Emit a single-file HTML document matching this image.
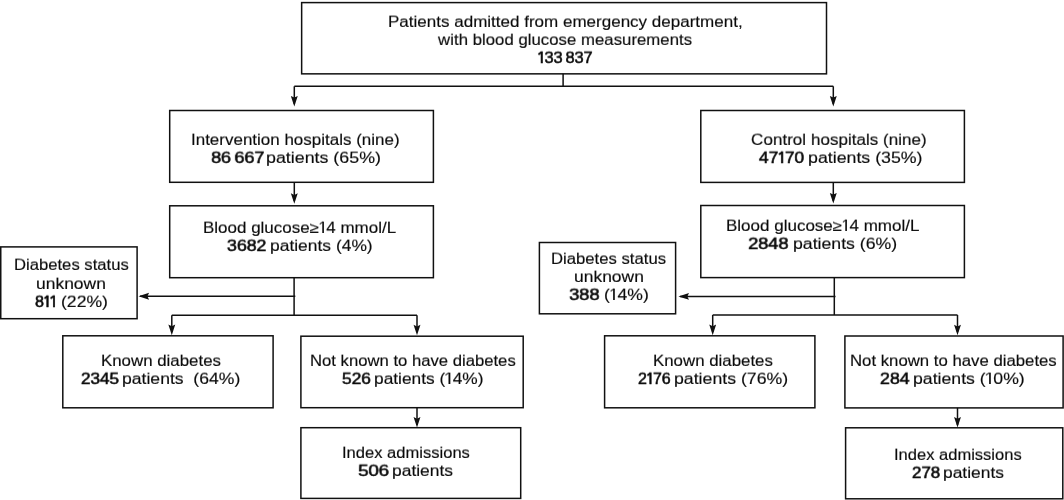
<!DOCTYPE html>
<html><head><meta charset="utf-8"><style>
html,body{margin:0;padding:0;background:#fff;width:1064px;height:500px;overflow:hidden;position:relative}
svg{position:absolute;left:0;top:0}
rect,line{fill:none;stroke:#101010;stroke-width:1.5}
.ah{fill:#101010;stroke:none}
.t{position:absolute;white-space:nowrap;font-family:"Liberation Sans",sans-serif;font-size:16.0px;line-height:normal;color:#0a0a0a;-webkit-text-stroke:0.15px #0a0a0a;transform-origin:0 14px;will-change:transform}

.o{position:relative;margin:0 0.9px 0 1.6px}
.o::before{content:"";position:absolute;left:-2.4px;top:1.6px;width:3.6px;height:1.4px;background:currentColor;transform:rotate(-38deg);transform-origin:100% 0}
.t b .o::before{height:1.9px}
.t b .o{margin:0 0.5px 0 1.4px}
.ts{letter-spacing:-0.3px}
.t b{font-weight:normal;-webkit-text-stroke:0.55px #0a0a0a;letter-spacing:-0.1px}
</style></head><body>
<svg width="1064" height="500" viewBox="0 0 1064 500"><rect x="301.65" y="2.6" width="524.85" height="71.25"/><rect x="169.7" y="110.5" width="263.70" height="71.80"/><rect x="700.8" y="110.5" width="263.60" height="71.90"/><rect x="169.7" y="205.8" width="263.70" height="71.90"/><rect x="700.8" y="205.5" width="263.60" height="72.10"/><rect x="0.75" y="246.9" width="136.35" height="71.80"/><rect x="539.4" y="242.5" width="136.20" height="71.30"/><rect x="62.8" y="335.8" width="210.30" height="72.00"/><rect x="300.9" y="336.2" width="222.30" height="71.50"/><rect x="300.9" y="427.7" width="219.80" height="70.70"/><rect x="604.6" y="335.8" width="210.30" height="72.00"/><rect x="844.9" y="336.0" width="218.20" height="71.90"/><rect x="845.6" y="427.8" width="217.20" height="71.00"/><line x1="563.1" y1="73.85" x2="563.1" y2="86.3"/><line x1="294.3" y1="86.3" x2="833.3" y2="86.3"/><line x1="294.3" y1="86.3" x2="294.3" y2="104"/><line x1="833.3" y1="86.3" x2="833.3" y2="104"/><line x1="294.3" y1="182.3" x2="294.3" y2="201"/><line x1="833.3" y1="182.4" x2="833.3" y2="201"/><line x1="294.1" y1="277.7" x2="294.1" y2="315.3"/><line x1="295.3" y1="296.2" x2="140" y2="296.2"/><line x1="171.8" y1="315.3" x2="417" y2="315.3"/><line x1="171.8" y1="315.3" x2="171.8" y2="332"/><line x1="417" y1="315.3" x2="417" y2="332"/><line x1="417" y1="407.7" x2="417" y2="425"/><line x1="834.3" y1="277.6" x2="834.3" y2="315.0"/><line x1="835.5" y1="296.4" x2="680" y2="296.4"/><line x1="712.7" y1="315.0" x2="957.5" y2="315.0"/><line x1="712.7" y1="315.0" x2="712.7" y2="332"/><line x1="957.5" y1="315.0" x2="957.5" y2="332"/><line x1="957.5" y1="407.9" x2="957.5" y2="425"/><path class="ah" d="M294.30 106.50L290.85 95.90L294.30 97.60L297.75 95.90ZM833.30 106.50L829.85 95.90L833.30 97.60L836.75 95.90ZM294.30 203.80L290.85 193.20L294.30 194.90L297.75 193.20ZM833.30 203.50L829.85 192.90L833.30 194.60L836.75 192.90ZM138.50 296.20L149.10 292.75L147.40 296.20L149.10 299.65ZM678.40 296.40L689.00 292.95L687.30 296.40L689.00 299.85ZM171.80 335.20L168.35 324.60L171.80 326.30L175.25 324.60ZM417.00 335.30L413.55 324.70L417.00 326.40L420.45 324.70ZM712.70 335.20L709.25 324.60L712.70 326.30L716.15 324.60ZM957.50 335.30L954.05 324.70L957.50 326.40L960.95 324.70ZM417.00 427.60L413.55 417.00L417.00 418.70L420.45 417.00ZM957.50 427.60L954.05 417.00L957.50 418.70L960.95 417.00Z"/></svg>
<div class="t" style="left:387.94px;top:13px;transform:scale(1.0634,0.95)">Patients admitted from emergency department,</div><div class="t" style="left:437.79px;top:31px;transform:scale(1.0500,0.95)">with blood glucose measurements</div><div class="t" style="left:538.00px;top:49px;transform:scale(1.0264,0.95)"><b><span class="o">I</span>33<span class="ts"> </span>837</b></div><div class="t" style="left:191.15px;top:131px;transform:scale(1.0610,0.95)">Intervention hospitals (nine)</div><div class="t" style="left:210.85px;top:149px;transform:scale(1.1348,0.95)"><b>86<span class="ts"> </span>667</b></div><div class="t" style="left:266.31px;top:149px;transform:scale(1.1139,0.95)">patients (65%)</div><div class="t" style="left:750.93px;top:131px;transform:scale(1.0681,0.95)">Control hospitals (nine)</div><div class="t" style="left:758.63px;top:149px;transform:scale(1.0854,0.95)"><b>47<span class="o">I</span>70</b></div><div class="t" style="left:807.73px;top:149px;transform:scale(1.1099,0.95)">patients (35%)</div><div class="t" style="left:202.91px;top:219px;transform:scale(1.0608,0.95)">Blood glucose≥<span class="o">I</span>4 mmol/L</div><div class="t" style="left:227.00px;top:237px;transform:scale(1.1143,0.95)"><b>3682</b></div><div class="t" style="left:270.33px;top:237px;transform:scale(1.0892,0.95)">patients (4%)</div><div class="t" style="left:726.35px;top:217px;transform:scale(1.0624,0.95)">Blood glucose≥<span class="o">I</span>4 mmol/L</div><div class="t" style="left:748.43px;top:235px;transform:scale(1.1486,0.95)"><b>2848</b></div><div class="t" style="left:792.89px;top:235px;transform:scale(1.1054,0.95)">patients (6%)</div><div class="t" style="left:13.76px;top:256px;transform:scale(1.0404,0.95)">Diabetes status</div><div class="t" style="left:35.86px;top:275px;transform:scale(1.0903,0.95)">unknown</div><div class="t" style="left:34.80px;top:293px;transform:scale(1.0100,0.95)"><b>8<span class="o">I</span><span class="o">I</span></b></div><div class="t" style="left:60.90px;top:293px;transform:scale(1.1000,0.95)">(22%)</div><div class="t" style="left:551.14px;top:250px;transform:scale(1.0431,0.95)">Diabetes status</div><div class="t" style="left:573.86px;top:268px;transform:scale(1.0903,0.95)">unknown</div><div class="t" style="left:569.00px;top:286px;transform:scale(1.1500,0.95)"><b>388</b></div><div class="t" style="left:604.32px;top:286px;transform:scale(1.1000,0.95)">(<span class="o">I</span>4%)</div><div class="t" style="left:100.95px;top:352px;transform:scale(1.0536,0.95)">Known diabetes</div><div class="t" style="left:80.58px;top:370px;transform:scale(1.0771,0.95)"><b>2345</b></div><div class="t" style="left:121.85px;top:370px;transform:scale(1.0991,0.95)">patients&nbsp; (64%)</div><div class="t" style="left:309.55px;top:352px;transform:scale(1.0418,0.95)">Not known to have diabetes</div><div class="t" style="left:341.58px;top:370px;transform:scale(1.0846,0.95)"><b>526</b></div><div class="t" style="left:373.92px;top:370px;transform:scale(1.0820,0.95)">patients (<span class="o">I</span>4%)</div><div class="t" style="left:341.97px;top:444px;transform:scale(1.0344,0.95)">Index admissions</div><div class="t" style="left:357.91px;top:462px;transform:scale(1.1731,0.95)"><b>506</b></div><div class="t" style="left:392.08px;top:462px;transform:scale(1.0891,0.95)">patients</div><div class="t" style="left:652.95px;top:352px;transform:scale(1.0527,0.95)">Known diabetes</div><div class="t" style="left:638.00px;top:370px;transform:scale(1.0000,0.95)"><b>2<span class="o">I</span>76</b></div><div class="t" style="left:673.84px;top:370px;transform:scale(1.1069,0.95)">patients (76%)</div><div class="t" style="left:849.54px;top:352px;transform:scale(1.0469,0.95)">Not known to have diabetes</div><div class="t" style="left:879.94px;top:370px;transform:scale(1.1154,0.95)"><b>284</b></div><div class="t" style="left:913.05px;top:370px;transform:scale(1.1040,0.95)">patients (<span class="o">I</span>0%)</div><div class="t" style="left:893.97px;top:446px;transform:scale(1.0328,0.95)">Index admissions</div><div class="t" style="left:911.59px;top:464px;transform:scale(1.0654,0.95)"><b>278</b></div><div class="t" style="left:943.33px;top:464px;transform:scale(1.0873,0.95)">patients</div>
</body></html>
